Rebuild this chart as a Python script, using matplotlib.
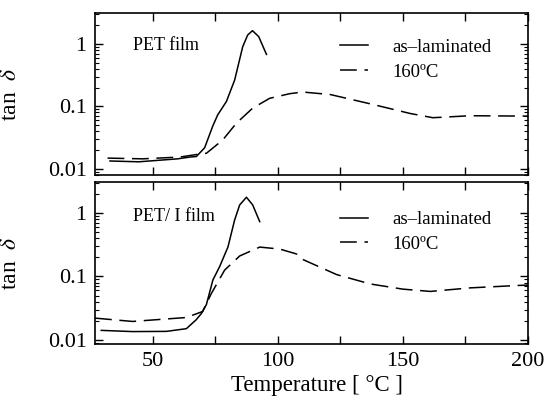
"""tan delta vs temperature for PET and PET/I films, two stacked log panels."""

import matplotlib
matplotlib.use("Agg")
import matplotlib.pyplot as plt
from matplotlib.ticker import FixedLocator, LogLocator, NullFormatter

plt.rcParams["font.family"] = ["Liberation Serif", "DejaVu Serif"]
plt.rcParams["mathtext.fontset"] = "stix"

# PET film, as-laminated (solid)
pet_lam_t = [33, 44.5, 60, 65, 67.5, 70.8, 74, 76, 79.5, 82.8, 86, 88, 89.9, 92.4, 95.5]
pet_lam_v = [0.0134, 0.0130, 0.0145, 0.0155, 0.0158, 0.0218, 0.048, 0.073, 0.12,
             0.265, 0.90, 1.39, 1.63, 1.31, 0.68]

# PET film, 160 C (dashed)
pet_160_t = [32, 46, 61, 67.5, 71.5, 78, 83.5, 90, 96.8, 104.8, 110, 121, 137,
             153, 162, 177, 200]
pet_160_v = [0.0149, 0.0145, 0.0155, 0.0170, 0.0178, 0.029, 0.054, 0.094, 0.135,
             0.16, 0.17, 0.155, 0.11, 0.077, 0.066, 0.071, 0.070]

# PET/I film, as-laminated (solid)
peti_lam_t = [29.5, 42, 55.5, 63.5, 67.4, 69.5, 71.5, 74.1, 76.8, 80.1, 82.8,
              84.8, 87.5, 90, 92.8]
peti_lam_v = [0.0141, 0.0135, 0.0136, 0.0150, 0.0207, 0.026, 0.036, 0.088, 0.143,
              0.29, 0.78, 1.34, 1.77, 1.34, 0.73]

# PET/I film, 160 C (dashed)
peti_160_t = [27, 42, 63.5, 70, 73.5, 78.8, 84.8, 92.8, 100.8, 107.5, 110, 123.5,
              137, 150, 161, 177, 196, 200]
peti_160_v = [0.022, 0.0195, 0.0225, 0.028, 0.054, 0.126, 0.21, 0.29, 0.27,
              0.226, 0.185, 0.107, 0.076, 0.063, 0.058, 0.066, 0.072, 0.073]

panels = [
    ("PET film", pet_lam_t, pet_lam_v, pet_160_t, pet_160_v, (0.008, 3.13), 0.80, 0.84),
    ("PET/ I film", peti_lam_t, peti_lam_v, peti_160_t, peti_160_v, (0.0086, 3.08), 0.785, 0.82),
]

fig = plt.figure(figsize=(5.47, 4.03), dpi=100)
axes = [fig.add_axes([0.1737, 0.5658, 0.7916, 0.402]),
        fig.add_axes([0.1737, 0.1464, 0.7916, 0.402])]

for ax, (title, lt, lv, dt, dv, ylim, ty, ly) in zip(axes, panels):
    ax.plot(lt, lv, color="black", lw=1.1, label="as\u2013laminated")
    ax.plot(dt, dv, color="black", lw=1.1, linestyle=(0, (11, 5)), label="160\u00baC")
    ax.set_yscale("log")
    ax.set_xlim(27, 200)
    ax.set_ylim(*ylim)

    ax.yaxis.set_major_locator(FixedLocator([0.01, 0.1, 1]))
    ax.set_yticklabels(["0.01", "0.1", "1"])
    ax.yaxis.set_minor_locator(LogLocator(base=10, subs=range(2, 10)))
    ax.yaxis.set_minor_formatter(NullFormatter())
    ax.xaxis.set_major_locator(FixedLocator([50, 100, 150, 200]))
    ax.xaxis.set_minor_locator(FixedLocator([75, 125, 175]))

    ax.tick_params(which="both", direction="in", top=True, right=True,
                   labelsize=16, pad=6)
    ax.tick_params(which="major", length=6, width=1)
    ax.tick_params(axis="x", which="minor", length=6, width=1)
    ax.tick_params(axis="y", which="minor", length=3, width=0.8)
    for sp in ax.spines.values():
        sp.set_linewidth(1.2)

    ax.text(0.088, ty, title, transform=ax.transAxes, fontsize=13,
            ha="left", va="center")
    ax.legend(loc="upper left", bbox_to_anchor=(0.566, ly), frameon=False,
              fontsize=13.5, handlelength=1.5, handletextpad=1.3,
              labelspacing=0.4, borderpad=0, borderaxespad=0)

    ax.set_ylabel(r"tan  $\delta$", fontsize=17)
    ax.yaxis.set_label_coords(-0.17, 0.5)

axes[0].tick_params(axis="x", labelbottom=False)
axes[1].set_xlabel("Temperature [ \u00b0C ]", fontsize=16.5)
axes[1].xaxis.set_label_coords(0.513, -0.19)

fig.savefig("out.png", dpi=100)
